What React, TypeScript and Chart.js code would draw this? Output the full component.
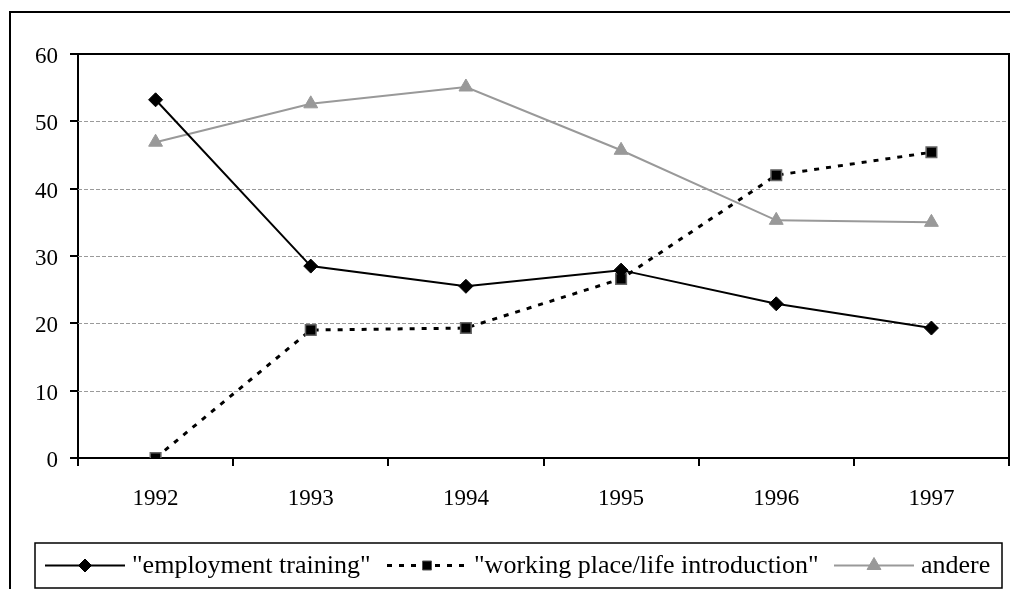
import React, { useEffect, useRef } from 'react';
import { Chart, registerables } from 'chart.js';

Chart.register(...registerables);

const categories = ['1992', '1993', '1994', '1995', '1996', '1997'];
const employmentTraining = [53.2, 28.5, 25.5, 27.9, 22.9, 19.3];
const workingPlace = [0, 19.0, 19.3, 26.6, 42.0, 45.4];
const andere = [46.9, 52.6, 55.1, 45.7, 35.3, 35.0];
const seriesLabels = ['"employment training"', '"working place/life introduction"', 'andere'];
const yTicks = [0, 10, 20, 30, 40, 50, 60];

const FONT = '"Liberation Serif", "Times New Roman", serif';
const W = 1010;
const H = 581;

function drawMarker(ctx: CanvasRenderingContext2D, style: string, x: number, y: number, r: number, fill: string, stroke: string) {
  ctx.save();
  ctx.setLineDash([]);
  ctx.fillStyle = fill;
  ctx.strokeStyle = stroke;
  ctx.lineWidth = 1;
  ctx.beginPath();
  if (style === 'diamond') {
    ctx.moveTo(x, y - r);
    ctx.lineTo(x + r, y);
    ctx.lineTo(x, y + r);
    ctx.lineTo(x - r, y);
    ctx.closePath();
  } else if (style === 'square') {
    ctx.rect(x - r, y - r, 2 * r, 2 * r);
  } else {
    const h = r * 1.5;
    const hw = r * 0.866;
    ctx.moveTo(x, y - h * 0.6667);
    ctx.lineTo(x + hw, y + h * 0.3333);
    ctx.lineTo(x - hw, y + h * 0.3333);
    ctx.closePath();
  }
  ctx.fill();
  ctx.stroke();
  ctx.restore();
}

const framePlugin = {
  id: 'framePlugin',
  beforeDatasetsDraw(chart: any) {
    const { ctx, chartArea: a, scales } = chart;
    const y = scales.y;
    ctx.save();
    ctx.strokeStyle = '#9a9a9a';
    ctx.lineWidth = 1;
    ctx.setLineDash([4, 2]);
    for (const v of yTicks) {
      if (v === 0 || v === 60) continue;
      const py = Math.round(y.getPixelForValue(v)) + 0.5;
      ctx.beginPath();
      ctx.moveTo(a.left, py);
      ctx.lineTo(a.right, py);
      ctx.stroke();
    }
    ctx.setLineDash([]);
    ctx.strokeStyle = '#000';
    ctx.lineWidth = 2;
    ctx.beginPath();
    ctx.moveTo(a.left, a.top);
    ctx.lineTo(a.right, a.top);
    ctx.lineTo(a.right, a.bottom);
    ctx.stroke();
    // outer chart frame
    ctx.beginPath();
    ctx.moveTo(2, chart.height);
    ctx.lineTo(2, 4);
    ctx.lineTo(chart.width, 4);
    ctx.stroke();
    ctx.restore();
  },
  afterDraw(chart: any) {
    const ctx: CanvasRenderingContext2D = chart.ctx;
    ctx.save();
    // legend box
    const bx = 27, by = 535, bw = 967, bh = 45;
    ctx.strokeStyle = '#000';
    ctx.lineWidth = 1.5;
    ctx.strokeRect(bx, by, bw, bh);
    ctx.font = `26px ${FONT}`;
    ctx.textBaseline = 'middle';
    ctx.fillStyle = '#000';
    const cy = by + bh / 2;
    const items = [
      { color: '#000', width: 2, dash: [] as number[], marker: 'diamond', r: 6.5, fill: '#000', stroke: '#000' },
      { color: '#000', width: 3, dash: [5, 7], marker: 'square', r: 4.5, fill: '#000', stroke: '#555' },
      { color: '#999', width: 2, dash: [] as number[], marker: 'triangle', r: 8, fill: '#999', stroke: '#999' },
    ];
    const starts = [37, 379, 826];
    items.forEach((it, i) => {
      const x = starts[i];
      ctx.save();
      ctx.strokeStyle = it.color;
      ctx.lineWidth = it.width;
      ctx.setLineDash(it.dash);
      ctx.beginPath();
      ctx.moveTo(x, cy);
      ctx.lineTo(x + 80, cy);
      ctx.stroke();
      ctx.restore();
      drawMarker(ctx, it.marker, x + 40, cy, it.r, it.fill, it.stroke);
      ctx.fillText(seriesLabels[i], x + 87, cy + 1);
    });
    ctx.restore();
  },
};

export default function App() {
  const ref = useRef<HTMLCanvasElement>(null);
  useEffect(() => {
    if (!ref.current) return;
    const chart = new Chart(ref.current, {
      type: 'line',
      data: {
        labels: categories,
        datasets: [
          {
            label: seriesLabels[0],
            data: employmentTraining,
            borderColor: '#000',
            backgroundColor: '#000',
            borderWidth: 2,
            pointStyle: 'rectRot',
            pointRadius: 7,
            pointBackgroundColor: '#000',
            pointBorderColor: '#000',
            pointBorderWidth: 1,
            tension: 0,
          },
          {
            label: seriesLabels[1],
            data: workingPlace,
            borderColor: '#000',
            backgroundColor: '#000',
            borderWidth: 3,
            borderDash: [5, 7],
            pointStyle: 'rect',
            pointRadius: 7.5,
            pointBackgroundColor: '#000',
            pointBorderColor: '#666',
            pointBorderWidth: 1.5,
            tension: 0,
          },
          {
            label: seriesLabels[2],
            data: andere,
            borderColor: '#999',
            backgroundColor: '#999',
            borderWidth: 2,
            pointStyle: 'triangle',
            pointRadius: 8,
            pointBackgroundColor: '#999',
            pointBorderColor: '#999',
            pointBorderWidth: 1,
            tension: 0,
          },
        ],
      },
      options: {
        responsive: false,
        animation: false,
        devicePixelRatio: 1,
        layout: { padding: { top: 46, right: 4, left: 0, bottom: 81 } },
        plugins: { legend: { display: false }, tooltip: { enabled: false } },
        scales: {
          x: {
            offset: true,
            grid: { offset: true, drawOnChartArea: false, tickLength: 8, color: '#000', lineWidth: 2 },
            border: { color: '#000', width: 2 },
            ticks: { color: '#000', font: { family: FONT, size: 23 }, padding: 19, maxRotation: 0 },
            afterFit: (s: any) => { s.height = 50; },
          },
          y: {
            min: 0,
            max: 60,
            grid: { drawOnChartArea: false, tickLength: 8, color: '#000', lineWidth: 2 },
            border: { color: '#000', width: 2 },
            ticks: { stepSize: 10, color: '#000', font: { family: FONT, size: 23 }, padding: 12, labelOffset: 3 },
            afterFit: (s: any) => { s.width = 70; },
          },
        },
      },
      plugins: [framePlugin],
    });
    return () => chart.destroy();
  }, []);
  return (
    <div style={{ width: W, height: H }}>
      <canvas ref={ref} width={W} height={H} style={{ display: 'block' }} />
    </div>
  );
}
